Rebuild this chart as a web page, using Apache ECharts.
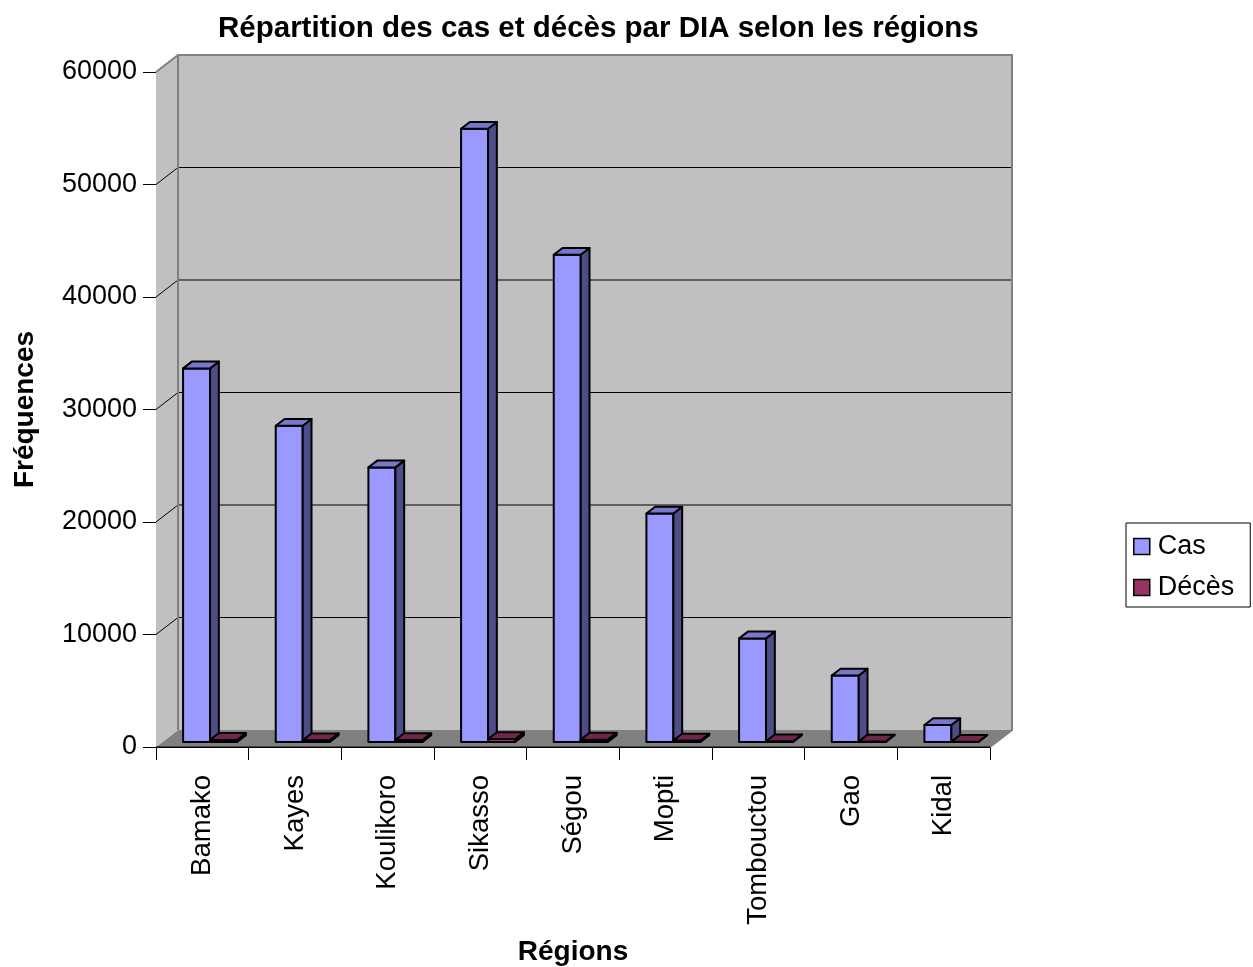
<!DOCTYPE html>
<html>
<head>
<meta charset="utf-8">
<script src="https://cdn.jsdelivr.net/npm/echarts@6/dist/echarts.min.js"></script>
<style>
  html, body { margin: 0; padding: 0; background: #fff; }
  #main { width: 1253px; height: 967px; }
</style>
</head>
<body>
<div id="main"></div>
<script>
// données
var regions = ['Bamako', 'Kayes', 'Koulikoro', 'Sikasso', 'Ségou', 'Mopti', 'Tombouctou', 'Gao', 'Kidal'];
var cas = [33200, 28100, 24400, 54500, 43300, 20300, 9200, 5900, 1500];
var deces = [180, 150, 160, 250, 200, 120, 60, 40, 10];
var yTicks = [0, 10000, 20000, 30000, 40000, 50000, 60000];

var FONT = 'Liberation Sans, Arial, sans-serif';
// profondeur du "3D" (pixels)
var DX = 22, DY = -17;
var D0 = 0.3, D1 = 0.7;

var myChart = echarts.init(document.getElementById('main'));

function renderWalls(params, api) {
  var cs = params.coordSys;
  var x0 = cs.x, x1 = cs.x + cs.width;
  var yb = api.coord([0, yTicks[0]])[1];
  var yt = api.coord([0, yTicks[yTicks.length - 1]])[1];
  var children = [];
  // sol
  children.push({
    type: 'polygon',
    shape: {points: [[x0, yb], [x1, yb], [x1 + DX, yb + DY], [x0 + DX, yb + DY]]},
    style: {fill: '#808080'}
  });
  // mur gauche
  children.push({
    type: 'polygon',
    shape: {points: [[x0, yt], [x0 + DX, yt + DY], [x0 + DX, yb + DY], [x0, yb]]},
    style: {fill: '#c0c0c0'}
  });
  // mur du fond
  children.push({
    type: 'rect',
    shape: {x: x0 + DX, y: yt + DY, width: x1 - x0, height: yb - yt},
    style: {fill: '#c0c0c0'}
  });
  // quadrillage
  yTicks.forEach(function (v, i) {
    if (i === 0 || i === yTicks.length - 1) return;
    var y = api.coord([0, v])[1];
    children.push({
      type: 'polyline',
      shape: {points: [[x0, y], [x0 + DX, y + DY], [x1 + DX, y + DY]]},
      style: {stroke: '#000', lineWidth: 1, fill: null}
    });
  });
  // arêtes
  var edge = {stroke: '#808080', lineWidth: 2, fill: null};
  children.push({
    type: 'polyline',
    shape: {points: [[x0, yt], [x0 + DX, yt + DY], [x1 + DX, yt + DY], [x1 + DX, yb + DY], [x1, yb]]},
    style: edge
  });
  children.push({
    type: 'polyline',
    shape: {points: [[x0 + DX, yt + DY], [x0 + DX, yb + DY]]},
    style: edge
  });
  children.push({
    type: 'polyline',
    shape: {points: [[x0, yb], [x1, yb]]},
    style: {stroke: '#000', lineWidth: 1, fill: null}
  });
  return {type: 'group', children: children};
}

function makeBar(off0, off1, colors) {
  return function (params, api) {
    var cat = api.value(0), v = api.value(1);
    var bw = api.size([1, 0])[0];
    var c = api.coord([cat, 0]);
    var top = api.coord([cat, v])[1];
    var start = c[0] - bw / 2;
    var left = start + off0 * bw + D0 * DX;
    var right = start + off1 * bw + D0 * DX;
    var yb = c[1] + D0 * DY, yt = top + D0 * DY;
    var ddx = (D1 - D0) * DX, ddy = (D1 - D0) * DY;
    var line = {stroke: '#000', lineWidth: 2, lineJoin: 'round'};
    return {
      type: 'group',
      children: [
        {type: 'rect', shape: {x: left, y: yt, width: right - left, height: yb - yt},
          style: Object.assign({fill: colors[0]}, line)},
        {type: 'polygon', shape: {points: [[right, yt], [right + ddx, yt + ddy], [right + ddx, yb + ddy], [right, yb]]},
          style: Object.assign({fill: colors[1]}, line)},
        {type: 'polygon', shape: {points: [[left, yt], [left + ddx, yt + ddy], [right + ddx, yt + ddy], [right, yt]]},
          style: Object.assign({fill: colors[2]}, line)}
      ]
    };
  };
}

var option = {
  animation: false,
  title: {
    text: 'Répartition des cas et décès par DIA selon les régions',
    left: 213,
    top: 9,
    textStyle: {fontFamily: FONT, fontSize: 29.5, fontWeight: 'bold', color: '#000'}
  },
  legend: {
    orient: 'vertical',
    left: 1126,
    top: 523,
    backgroundColor: '#fff',
    borderColor: '#000',
    borderWidth: 1,
    borderRadius: 0,
    padding: [10, 16, 6, 7],
    itemGap: 14,
    itemWidth: 16,
    itemHeight: 16,
    icon: 'rect',
    selectedMode: false,
    textStyle: {fontFamily: FONT, fontSize: 27, color: '#000', padding: [0, 0, 0, 3]},
    data: [
      {name: 'Cas', itemStyle: {color: '#9999FF', borderColor: '#000', borderWidth: 1.5}},
      {name: 'Décès', itemStyle: {color: '#993366', borderColor: '#000', borderWidth: 1.5}}
    ]
  },
  grid: {left: 156, right: 263, top: 72, bottom: 220, containLabel: false, outerBoundsMode: 'none'},
  xAxis: {
    type: 'category',
    data: regions,
    name: 'Régions',
    nameLocation: 'middle',
    nameGap: 191,
    nameTextStyle: {fontFamily: FONT, fontSize: 28, fontWeight: 'bold', color: '#000'},
    axisLine: {show: true, lineStyle: {color: '#000', width: 1}},
    axisTick: {show: true, length: 13, lineStyle: {color: '#000'}},
    axisLabel: {rotate: 90, margin: 28, fontFamily: FONT, fontSize: 27.5, color: '#000'},
    splitLine: {show: false}
  },
  yAxis: {
    type: 'value',
    min: 0,
    max: 60000,
    interval: 10000,
    name: 'Fréquences',
    nameLocation: 'middle',
    nameRotate: 90,
    nameGap: 117,
    nameTextStyle: {fontFamily: FONT, fontSize: 28, fontWeight: 'bold', color: '#000'},
    axisLine: {show: true, lineStyle: {color: '#000', width: 1}},
    axisTick: {show: true, length: 13, lineStyle: {color: '#000'}},
    axisLabel: {margin: 19, fontFamily: FONT, fontSize: 27, color: '#000',
      formatter: function (v) { return String(v); }},
    splitLine: {show: false}
  },
  series: [
    {
      name: 'murs',
      type: 'custom',
      silent: true,
      clip: false,
      z: 1,
      renderItem: renderWalls,
      data: [[0, 0]]
    },
    {
      name: 'Cas',
      type: 'custom',
      silent: true,
      z: 2,
      itemStyle: {color: '#9999FF'},
      renderItem: makeBar(0.221, 0.512, ['#9999FF', '#4d4d88', '#7777cc']),
      data: cas.map(function (v, i) { return [i, v]; })
    },
    {
      name: 'Décès',
      type: 'custom',
      silent: true,
      z: 3,
      itemStyle: {color: '#993366'},
      renderItem: makeBar(0.512, 0.804, ['#993366', '#4d1a33', '#73264d']),
      data: deces.map(function (v, i) { return [i, v]; })
    }
  ]
};

myChart.setOption(option);
</script>
</body>
</html>
